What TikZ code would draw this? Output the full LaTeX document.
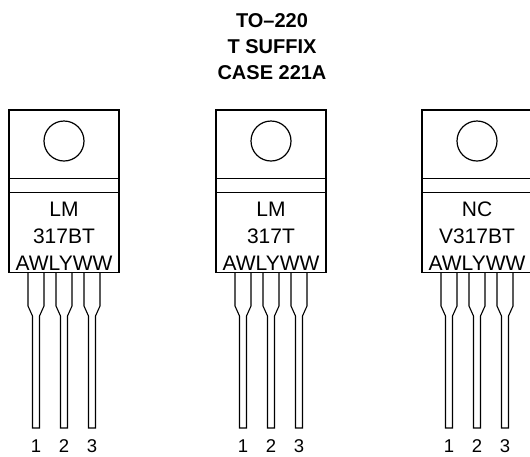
\documentclass[tikz,border=0pt]{standalone}
\usepackage{fontspec}
\setmainfont{Liberation Sans}
\begin{document}
\begin{tikzpicture}[x=1pt,y=-1pt,
  body/.style={line width=1.4pt},
  leadline/.style={line width=1.1pt, line join=miter},
  tab/.style={line width=1.2pt},
  marking/.style={anchor=base, inner sep=0pt, font=\fontsize{21}{24}\selectfont},
  pinnum/.style={anchor=base, inner sep=0pt, font=\fontsize{18.5}{21}\selectfont},
  title/.style={anchor=base, inner sep=0pt, font=\bfseries\fontsize{20}{23}\selectfont}]
\useasboundingbox (0,0) rectangle (530,456);
% title
\node[title] (t1) at (272,27) {TO\textendash220};
\node[title] (t2) at (272,53.5) {T SUFFIX};
\node[title] (t3) at (272,79.5) {CASE 221A};
% packages
\foreach \cx/\la/\lb/\i in {64/LM/317BT/1, 271/LM/317T/2, 477/NC/V317BT/3} {
  \draw[body] (\cx-55,110) rectangle (\cx+55,272.5);
  \draw[body] (\cx-55,178.3) -- (\cx+55,178.3);
  \draw[body] (\cx-55,192.7) -- (\cx+55,192.7);
  \draw[tab] (\cx,141) circle (20);
  \node[marking] (a\i) at (\cx,216.5) {\la};
  \node[marking] (b\i) at (\cx,243) {\lb};
  \node[marking] (c\i) at (\cx,270.3) {AWLYWW};
  \foreach \p/\n in {-28/1, 0/2, 28/3} {
    \draw[leadline] (\cx+\p-8,272.5) -- (\cx+\p-8,306) -- (\cx+\p-3.5,316)
      -- (\cx+\p-3.5,428) -- (\cx+\p+3.5,428) -- (\cx+\p+3.5,316)
      -- (\cx+\p+8,306) -- (\cx+\p+8,272.5);
    \node[pinnum] (n\i-\n) at (\cx+\p,452.5) {\n};
  }
}
\end{tikzpicture}
\end{document}
